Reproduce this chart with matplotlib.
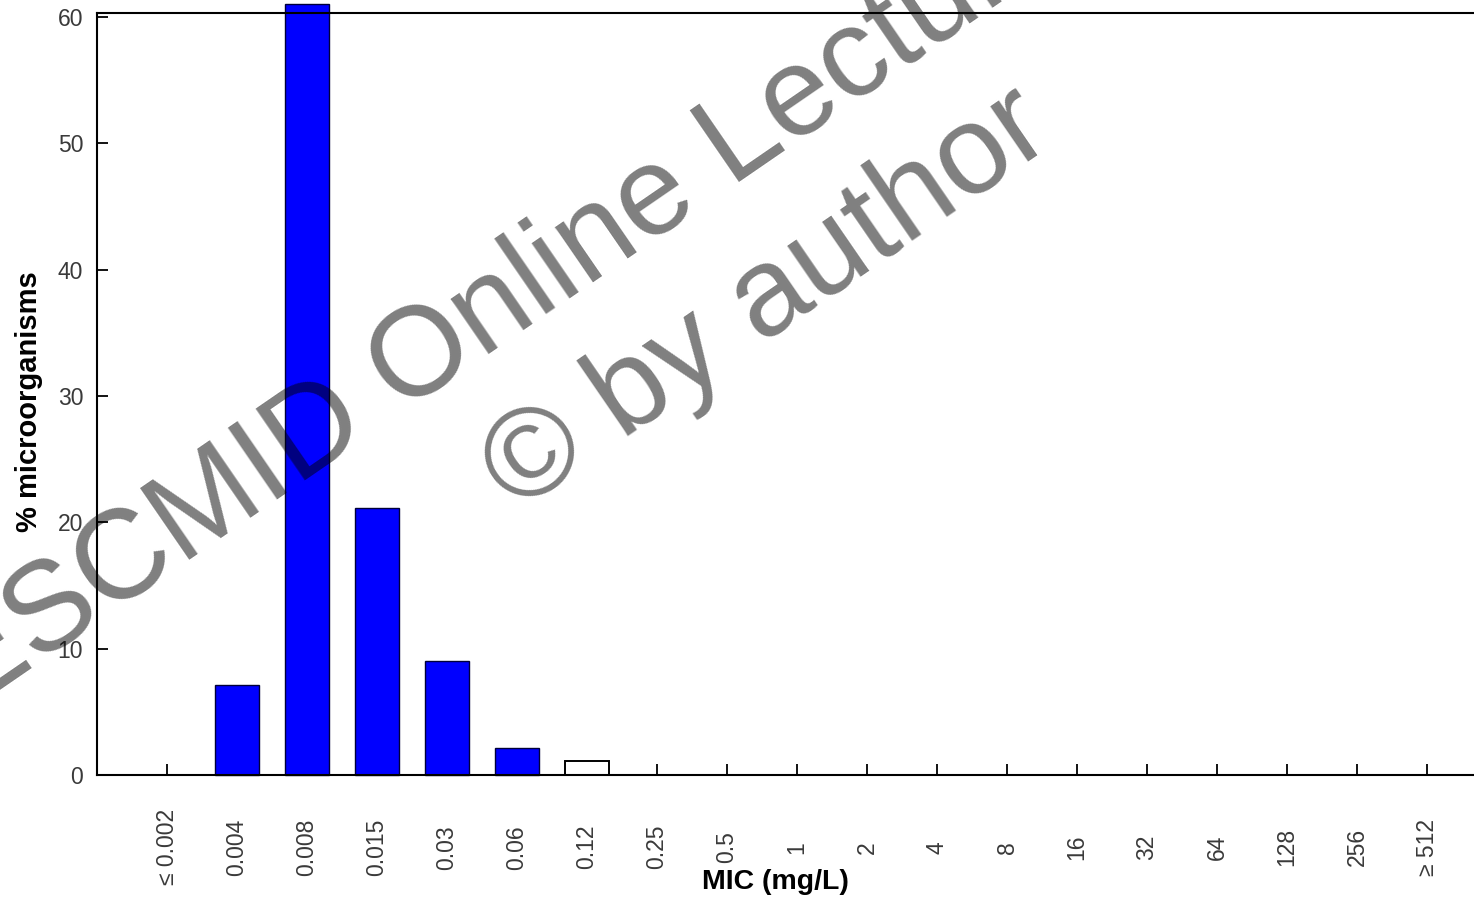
import matplotlib
matplotlib.use("Agg")
import matplotlib.pyplot as plt

mic_labels = ["\u2264 0.002", "0.004", "0.008", "0.015", "0.03", "0.06", "0.12", "0.25",
              "0.5", "1", "2", "4", "8", "16", "32", "64", "128", "256", "\u2265 512"]
pct_organisms = [0, 7.1, 61.0, 21.1, 9.0, 2.1, 1.1, 0, 0, 0, 0, 0, 0, 0, 0, 0, 0, 0, 0]
ecoff = "0.06"
y_ticks = [0, 10, 20, 30, 40, 50, 60]

W, H = 1474, 900
fig = plt.figure(figsize=(W / 100, H / 100), dpi=100)
fig.patch.set_facecolor("white")

ax = fig.add_axes([97 / W, (H - 775) / H, 1400 / W, 762 / H])
ax.set_facecolor("white")

ecoff_idx = mic_labels.index(ecoff)
x = list(range(len(mic_labels)))
for i, v in enumerate(pct_organisms):
    if v <= 0:
        continue
    if i <= ecoff_idx:
        ax.bar(i, v, width=0.63, color="#0000ff", edgecolor="#00003a", linewidth=1.0,
               clip_on=False, zorder=2)
    else:
        ax.bar(i, v, width=0.63, color="white", edgecolor="black", linewidth=1.4,
               clip_on=False, zorder=2)

ax.set_xlim(-1, 19)
ax.set_ylim(0, 60.3)

ax.set_xticks(x)
ax.set_xticklabels(mic_labels, rotation=90, fontsize=16.5, color="#3a3a3a",
                   family=["Liberation Sans", "DejaVu Sans"], va="center", ha="center")
ax.set_yticks(y_ticks)
ax.set_yticklabels([str(t) for t in y_ticks], fontsize=16.5, color="#3a3a3a",
                   family=["Liberation Sans", "DejaVu Sans"])
ax.tick_params(axis="x", direction="in", length=8, width=1.3, pad=52, color="black")
ax.tick_params(axis="y", direction="in", length=8, width=1.3, pad=10, color="black")

for s in ax.spines.values():
    s.set_linewidth(1.5)
    s.set_color("black")

ax.set_xlabel("MIC (mg/L)", fontsize=20.5, fontweight="bold", family="Liberation Sans")
ax.xaxis.label.set_va("center")
ax.xaxis.set_label_coords((775 - 97) / 1400, -(882 - 775) / 762)
ax.set_ylabel("% microorganisms", fontsize=21, fontweight="bold", family="Liberation Sans")
ax.yaxis.label.set_va("center")
ax.yaxis.set_label_coords((29 - 97) / 1400, (775 - 402) / 762)

# watermark
wm_kw = dict(rotation=34.5, rotation_mode="anchor", ha="center", va="center",
             fontsize=91, color="black", alpha=0.5, family="Liberation Sans", zorder=10)
fig.text(678 / W, 1 - 184 / H, "ESCMID Online Lecture Library", **wm_kw)
fig.text(768 / W, 1 - 301 / H, "\u00a9 by author", **wm_kw)

fig.savefig("out.png", dpi=100, facecolor="white")
